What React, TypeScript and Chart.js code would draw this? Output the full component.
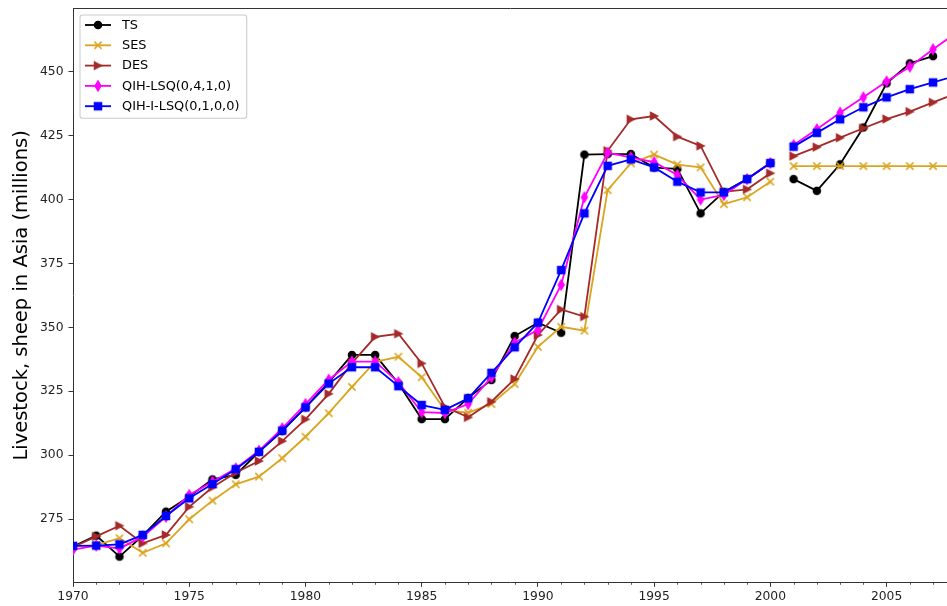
import React, { useEffect, useRef } from "react";
import { Chart, registerables } from "chart.js";

Chart.register(...registerables);

const years = [
  1970, 1971, 1972, 1973, 1974, 1975, 1976, 1977, 1978, 1979,
  1980, 1981, 1982, 1983, 1984, 1985, 1986, 1987, 1988, 1989,
  1990, 1991, 1992, 1993, 1994, 1995, 1996, 1997, 1998, 1999,
  2000, 2001, 2002, 2003, 2004, 2005, 2006, 2007, 2008,
];

const tsValues = [
  264.3, 268.5, 260.3, 268.5, 277.9, 283.8, 290.5, 292.3, 301.3, 309.4,
  318.7, 328.5, 339.2, 339.2, 328, 314.1, 314.1, 322.4, 329.4, 346.6,
  351.8, 347.9, 417.6, 417.8, 417.8, 412.5, 412, 394.6, 403, 408,
  414.3, 408, 403.4, 413.8, 428.2, 445.5, 453.3, 456.1, null,
];

const sesValues = [
  264.5, 264.8, 267.5, 261.8, 265.5, 274.9, 282.2, 288.6, 291.6, 298.8,
  307.2, 316.4, 326.7, 336.5, 338.5, 330.5, 317.6, 316.6, 320, 327.8,
  342.4, 350.2, 348.7, 403.7, 414.2, 417.6, 413.7, 412.6, 398.2, 400.9,
  407, 413.1, 413.1, 413.1, 413.1, 413.1, 413.1, 413.1, 413.1,
];

const desValues = [
  264, 268.2, 272.4, 265.5, 268.8, 279.8, 287.4, 293.1, 297.7, 305.5,
  314, 324, 336, 346.3, 347.5, 335.9, 318.9, 314.8, 320.9, 329.8,
  347, 357, 354.2, 419.1, 431.4, 432.7, 424.6, 421, 403, 404,
  410.3, 417, 420.5, 424.2, 427.9, 431.5, 434.4, 438, 441.6,
];

const qihValues = [
  263, 264.6, 263.5, 268.1, 275.9, 284.4, 289.6, 294.8, 301.7, 310.5,
  320, 329.5, 336.6, 336.6, 328.5, 316.8, 316.5, 320, 330.5, 344,
  349, 366.6, 400.9, 418.3, 416.5, 414.6, 409.6, 400, 401.8, 408,
  414.3, 421.3, 427.5, 434, 440, 446.2, 452, 458.8, 465.3,
];

const qihiValues = [
  264.5, 264.6, 265.1, 268.8, 276.2, 283.1, 288.7, 294.5, 301.3, 309.6,
  318.7, 328, 334.4, 334.4, 327, 319.6, 317.7, 322.2, 332.2, 342.2,
  351.8, 372.4, 394.6, 413.2, 415.7, 412.6, 407, 402.8, 402.8, 408,
  414.3, 420.7, 426.1, 431.4, 436.1, 440, 443.2, 445.8, 448.5,
];

const yTickValues = [275, 300, 325, 350, 375, 400, 425, 450];
const xTickYears = [
  1970, 1971, 1972, 1973, 1974, 1975, 1976, 1977, 1978, 1979,
  1980, 1981, 1982, 1983, 1984, 1985, 1986, 1987, 1988, 1989,
  1990, 1991, 1992, 1993, 1994, 1995, 1996, 1997, 1998, 1999,
  2000, 2001, 2002, 2003, 2004, 2005, 2006, 2007,
];

const seriesNames = ["TS", "SES", "DES", "QIH-LSQ(0,4,1,0)", "QIH-I-LSQ(0,1,0,0)"];
const seriesColors = ["#000000", "#DAA520", "#A52A2A", "#FF00FF", "#0000FF"];
const seriesMarkers = ["o", "x", ">", "d", "s"];
const seriesValues = [tsValues, sesValues, desValues, qihValues, qihiValues];

const yAxisTitle = "Livestock, sheep in Asia (millions)";
const breakAfterYear = 2000;

const FONT = "'DejaVu Sans', 'Liberation Sans', sans-serif";

function makeMarker(kind: string, color: string): HTMLCanvasElement {
  const s = 16;
  const c = document.createElement("canvas");
  c.width = s;
  c.height = s;
  const g = c.getContext("2d")!;
  g.translate(s / 2, s / 2);
  const m = 7.3 / 2;
  g.fillStyle = color;
  g.strokeStyle = color;
  g.lineWidth = 1.22;
  g.beginPath();
  if (kind === "x") {
    g.moveTo(-m, -m);
    g.lineTo(m, m);
    g.moveTo(-m, m);
    g.lineTo(m, -m);
    g.lineWidth = 1.5;
    g.stroke();
    return c;
  }
  if (kind === "o") g.arc(0, 0, m, 0, Math.PI * 2);
  else if (kind === "s") g.rect(-m, -m, 2 * m, 2 * m);
  else if (kind === ">") {
    g.moveTo(m, 0);
    g.lineTo(-m, -m);
    g.lineTo(-m, m);
    g.closePath();
  } else if (kind === "d") {
    const h = m * Math.SQRT2;
    const w = 0.6 * h;
    g.moveTo(0, -h);
    g.lineTo(w, 0);
    g.lineTo(0, h);
    g.lineTo(-w, 0);
    g.closePath();
  }
  g.fill();
  g.stroke();
  return c;
}

export default function App() {
  const ref = useRef<HTMLCanvasElement | null>(null);

  useEffect(() => {
    if (!ref.current) return;
    const markers = seriesMarkers.map((k, i) => makeMarker(k, seriesColors[i]));

    const datasets = seriesValues.map((vals, i) => ({
      label: seriesNames[i],
      data: years.map((yr, j) => ({ x: yr, y: vals[j] })),
      borderColor: seriesColors[i],
      backgroundColor: seriesColors[i],
      borderWidth: 1.83,
      pointStyle: markers[i] as any,
      pointRadius: 4,
      pointHoverRadius: 4,
      tension: 0,
      spanGaps: false,
      order: seriesNames.length - 1 - i,
      segment: {
        borderColor: (ctx: any) =>
          ctx.p0.parsed.x === breakAfterYear ? "rgba(0,0,0,0)" : undefined,
      },
    }));

    const decor = {
      id: "decor",
      afterDraw(chart: any) {
        const { ctx, chartArea } = chart;
        const xs = chart.scales.x;
        ctx.save();
        ctx.strokeStyle = "#333";
        ctx.lineWidth = 1;
        ctx.beginPath();
        ctx.moveTo(chartArea.left, chartArea.top);
        ctx.lineTo(chartArea.right + 1, chartArea.top);
        ctx.stroke();
        ctx.lineWidth = 0.8;
        for (const yr of xTickYears) {
          if (yr % 5 === 0) continue;
          const px = Math.round(xs.getPixelForValue(yr)) + 0.5;
          ctx.beginPath();
          ctx.moveTo(px, chartArea.bottom);
          ctx.lineTo(px, chartArea.bottom + 2.5);
          ctx.stroke();
        }
        ctx.fillStyle = "#000";
        ctx.font = `19.5px ${FONT}`;
        ctx.textAlign = "center";
        ctx.textBaseline = "alphabetic";
        ctx.translate(27, (chartArea.top + chartArea.bottom) / 2);
        ctx.rotate(-Math.PI / 2);
        ctx.fillText(yAxisTitle, 0, 0);
        ctx.restore();

        ctx.save();
        const bx = 80, by = 15, bw = 166.7, bh = 103.3, r = 2.6;
        ctx.beginPath();
        ctx.moveTo(bx + r, by);
        ctx.lineTo(bx + bw - r, by);
        ctx.quadraticCurveTo(bx + bw, by, bx + bw, by + r);
        ctx.lineTo(bx + bw, by + bh - r);
        ctx.quadraticCurveTo(bx + bw, by + bh, bx + bw - r, by + bh);
        ctx.lineTo(bx + r, by + bh);
        ctx.quadraticCurveTo(bx, by + bh, bx, by + bh - r);
        ctx.lineTo(bx, by + r);
        ctx.quadraticCurveTo(bx, by, bx + r, by);
        ctx.closePath();
        ctx.fillStyle = "rgba(255,255,255,0.8)";
        ctx.fill();
        ctx.strokeStyle = "#cccccc";
        ctx.lineWidth = 1.1;
        ctx.stroke();
        ctx.font = `12.9px ${FONT}`;
        ctx.textAlign = "left";
        ctx.textBaseline = "middle";
        seriesNames.forEach((name, i) => {
          const cy = 25 + i * 20.3;
          ctx.strokeStyle = seriesColors[i];
          ctx.lineWidth = 1.83;
          ctx.beginPath();
          ctx.moveTo(85, cy);
          ctx.lineTo(111, cy);
          ctx.stroke();
          ctx.drawImage(markers[i], 98 - 8, cy - 8);
          ctx.fillStyle = "#000";
          ctx.fillText(name, 122, cy + 0.5);
        });
        ctx.restore();
      },
    };

    const tickFont = { family: FONT, size: 12.3 };

    const chart = new Chart(ref.current, {
      type: "line",
      data: { datasets: datasets as any },
      plugins: [decor],
      options: {
        animation: false,
        responsive: false,
        devicePixelRatio: 1,
        layout: { autoPadding: false, padding: { top: 8.5, left: 0, right: 0, bottom: 0 } },
        plugins: {
          legend: { display: false },
          tooltip: { enabled: false },
        },
        scales: {
          x: {
            type: "linear",
            min: 1970,
            max: 2007.6,
            afterBuildTicks: (s: any) => {
              s.ticks = xTickYears.map((v) => ({ value: v }));
            },
            afterFit: (s: any) => {
              s.height = 23.7;
              s.paddingLeft = 0;
              s.paddingRight = 0;
            },
            grid: {
              display: true,
              drawOnChartArea: false,
              drawTicks: true,
              tickLength: 4.5,
              tickWidth: 1,
              tickColor: (ctx: any) =>
                ctx.tick && ctx.tick.value % 5 === 0 ? "#333" : "rgba(0,0,0,0)",
            },
            border: { display: true, color: "#333", width: 1 },
            ticks: {
              autoSkip: false,
              maxRotation: 0,
              minRotation: 0,
              padding: 3,
              color: "#222",
              font: tickFont,
              callback: (v: any) => (Number(v) % 5 === 0 ? String(v) : ""),
            },
          },
          y: {
            type: "linear",
            min: 250.25,
            max: 474.75,
            afterBuildTicks: (s: any) => {
              s.ticks = yTickValues.map((v) => ({ value: v }));
            },
            afterFit: (s: any) => {
              s.width = 73;
              s.paddingTop = 0;
              s.paddingBottom = 0;
            },
            grid: {
              display: true,
              drawOnChartArea: false,
              drawTicks: true,
              tickLength: 4.5,
              tickWidth: 1,
              tickColor: "#333",
            },
            border: { display: true, color: "#333", width: 1 },
            ticks: {
              padding: 5,
              color: "#222",
              font: tickFont,
              callback: (v: any) => String(v),
            },
          },
        },
      } as any,
    });
    return () => chart.destroy();
  }, []);

  return (
    <div style={{ position: "fixed", left: 0, top: 0, width: 947, height: 606, background: "#fff" }}>
      <canvas ref={ref} width={947} height={606} style={{ display: "block" }} />
    </div>
  );
}
